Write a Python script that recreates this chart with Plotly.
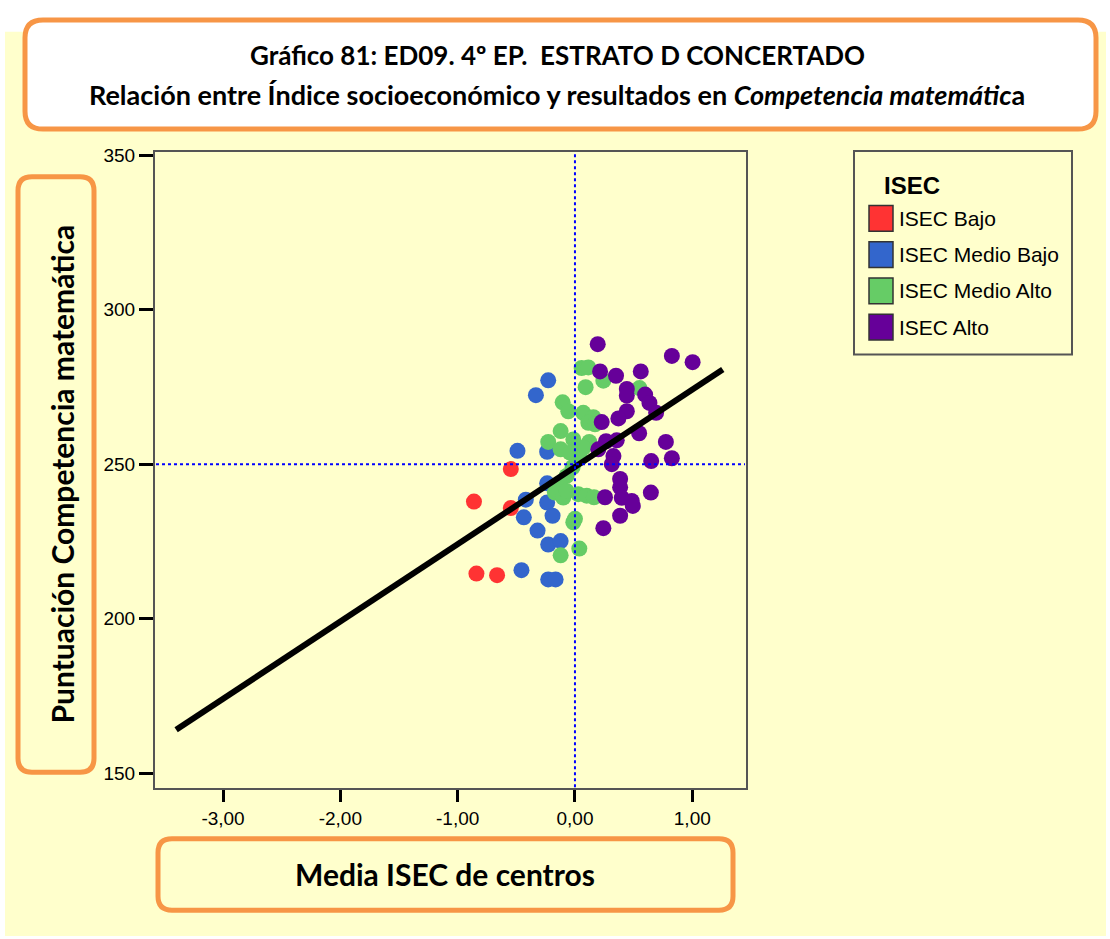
import plotly.graph_objects as go

# ---------------- data ----------------
categories = ["ISEC Bajo", "ISEC Medio Bajo", "ISEC Medio Alto", "ISEC Alto"]
colors = ["#FF3333", "#3366CC", "#66CC66", "#660099"]

bajo_x = [-0.547, -0.861, -0.547, -0.840, -0.664]
bajo_y = [248.4, 237.9, 235.8, 214.6, 214.1]

medio_bajo_x = [-0.228, -0.333, -0.490, -0.237, -0.237, -0.419, -0.237, -0.436,
                -0.191, -0.319, -0.228, -0.122, -0.456, -0.228, -0.165]
medio_bajo_y = [277.1, 272.3, 254.3, 254.0, 243.8, 238.5, 237.6, 232.8,
                233.3, 228.5, 224.0, 225.1, 215.7, 212.7, 212.7]

medio_alto_x = [0.057, 0.114, 0.242, 0.091, 0.550, -0.105, -0.057, 0.071, 0.157,
                0.114, 0.171, -0.122, -0.228, -0.014, 0.122, -0.122, -0.043,
                0.071, -0.071, -0.128, -0.171, -0.100, -0.071, 0.028, 0.100,
                0.162, 0.000, -0.014, 0.037, -0.122, -0.020, 0.040]
medio_alto_y = [281.1, 281.3, 277.0, 274.9, 274.6, 270.0, 267.1, 266.6, 265.2,
                263.4, 262.9, 260.7, 257.2, 258.0, 257.2, 254.8, 253.7,
                255.3, 246.2, 243.6, 240.8, 239.2, 241.3, 240.3, 239.8,
                239.3, 232.3, 231.2, 222.7, 220.5, 249.0, 252.0]

alto_x = [0.194, 0.826, 1.003, 0.214, 0.350, 0.561, 0.442, 0.442, 0.598, 0.635,
          0.692, 0.442, 0.370, 0.228, 0.547, 0.265, 0.356, 0.199, 0.328, 0.314,
          0.775, 0.826, 0.650, 0.385, 0.385, 0.256, 0.399, 0.484, 0.493, 0.647,
          0.385, 0.242]
alto_y = [288.8, 285.0, 283.0, 280.0, 278.6, 280.0, 274.3, 272.2, 272.5, 269.8,
          266.6, 267.1, 264.8, 263.6, 260.0, 257.4, 257.7, 254.8, 252.6, 250.0,
          257.2, 251.9, 251.0, 245.2, 242.5, 239.3, 239.1, 238.1, 236.5, 240.8,
          233.3, 229.3]

# regression line (fitted over all centres)
fit_intercept = 249.1
fit_slope = 25.0
fit_x = [-3.40, 1.26]

x_tick_vals = [-3, -2, -1, 0, 1]
x_tick_text = ["-3,00", "-2,00", "-1,00", "0,00", "1,00"]
y_tick_vals = [150, 200, 250, 300, 350]
y_tick_text = ["150", "200", "250", "300", "350"]

ref_x = 0.0
ref_y = 250.0

title_line1 = "Gráfico 81: ED09. 4º EP.  ESTRATO D CONCERTADO"
title_line2 = "Relación entre Índice socioeconómico y resultados en <i>Competencia matemátic</i>a"
x_title = "Media ISEC de centros"
y_title = "Puntuación Competencia matemática"
legend_title = "ISEC"

# ---------------- figure ----------------
W, H = 1110, 939
BG = "#FFFFCC"
ORANGE = "#F79646"


def px(x):
    return x / W


def py(y):
    return 1 - y / H


def rounded_rect(x0, y0, x1, y1, r):
    pts = []
    pts.append(f"M {px(x0 + r)},{py(y0)}")
    pts.append(f"L {px(x1 - r)},{py(y0)}")
    pts.append(f"Q {px(x1)},{py(y0)} {px(x1)},{py(y0 + r)}")
    pts.append(f"L {px(x1)},{py(y1 - r)}")
    pts.append(f"Q {px(x1)},{py(y1)} {px(x1 - r)},{py(y1)}")
    pts.append(f"L {px(x0 + r)},{py(y1)}")
    pts.append(f"Q {px(x0)},{py(y1)} {px(x0)},{py(y1 - r)}")
    pts.append(f"L {px(x0)},{py(y0 + r)}")
    pts.append(f"Q {px(x0)},{py(y0)} {px(x0 + r)},{py(y0)}")
    pts.append("Z")
    return " ".join(pts)


fig = go.Figure()

groups = [(bajo_x, bajo_y), (medio_bajo_x, medio_bajo_y),
          (medio_alto_x, medio_alto_y), (alto_x, alto_y)]
for name, col, (gx, gy) in zip(categories, colors, groups):
    fig.add_trace(go.Scatter(
        x=gx, y=gy, mode="markers", name=name, showlegend=False,
        marker=dict(color=col, size=16, line=dict(width=0)),
    ))

fit_y = [fit_intercept + fit_slope * v for v in fit_x]
fig.add_trace(go.Scatter(x=fit_x, y=fit_y, mode="lines", showlegend=False,
                         line=dict(color="black", width=6)))

shapes = []
# yellow background
shapes.append(dict(type="rect", xref="paper", yref="paper", x0=px(5), x1=px(1106),
                   y0=py(936), y1=py(25), fillcolor=BG, line=dict(width=0), layer="below"))
# title box
shapes.append(dict(type="path", xref="paper", yref="paper",
                   path=rounded_rect(25, 13, 1096, 123, 18),
                   fillcolor="white", line=dict(color=ORANGE, width=5), layer="below"))
# y-title box
shapes.append(dict(type="path", xref="paper", yref="paper",
                   path=rounded_rect(18, 171, 94, 771, 14),
                   fillcolor=BG, line=dict(color=ORANGE, width=5), layer="below"))
# x-title box
shapes.append(dict(type="path", xref="paper", yref="paper",
                   path=rounded_rect(158, 838, 733, 910, 14),
                   fillcolor=BG, line=dict(color=ORANGE, width=5), layer="below"))
# legend box
shapes.append(dict(type="rect", xref="paper", yref="paper",
                   x0=px(854), x1=px(1072), y0=py(350), y1=py(145),
                   fillcolor=BG, line=dict(color="#555555", width=2), layer="below"))
# reference lines
shapes.append(dict(type="line", xref="x", yref="paper", x0=ref_x, x1=ref_x,
                   y0=py(786), y1=py(147), line=dict(color="#0000FF", width=2, dash="dot"),
                   layer="above"))
shapes.append(dict(type="line", xref="paper", yref="y", x0=px(156), x1=px(745),
                   y0=ref_y, y1=ref_y, line=dict(color="#0000FF", width=2, dash="dot"),
                   layer="above"))

annotations = []
TFONT = "Lato"
annotations.append(dict(xref="paper", yref="paper", x=px(557), y=py(48), text=f"<b>{title_line1}</b>",
                        showarrow=False, font=dict(family=TFONT, size=26, color="black"),
                        xanchor="center", yanchor="middle"))
annotations.append(dict(xref="paper", yref="paper", x=px(557), y=py(88), text=f"<b>{title_line2}</b>",
                        showarrow=False, font=dict(family=TFONT, size=27, color="black"),
                        xanchor="center", yanchor="middle"))
annotations.append(dict(xref="paper", yref="paper", x=px(445), y=py(874), text=f"<b>{x_title}</b>",
                        showarrow=False, font=dict(family=TFONT, size=30, color="black"),
                        xanchor="center", yanchor="middle"))
annotations.append(dict(xref="paper", yref="paper", x=px(62), y=py(471), text=f"<b>{y_title}</b>",
                        showarrow=False, textangle=-90, font=dict(family=TFONT, size=30, color="black"),
                        xanchor="center", yanchor="middle"))
# legend content
annotations.append(dict(xref="paper", yref="paper", x=px(882), y=py(180), text=f"<b>{legend_title}</b>",
                        showarrow=False, font=dict(family="Liberation Sans", size=24, color="black"),
                        xanchor="left", yanchor="middle"))
for i, (name, col) in enumerate(zip(categories, colors)):
    cy = 213 + i * 36.5
    shapes.append(dict(type="rect", xref="paper", yref="paper",
                       x0=px(869), x1=px(893), y0=py(cy + 13), y1=py(cy - 13),
                       fillcolor=col, line=dict(color="#333333", width=1.5)))
    annotations.append(dict(xref="paper", yref="paper", x=px(897), y=py(cy), text=name,
                            showarrow=False, font=dict(family="Liberation Sans", size=21, color="black"),
                            xanchor="left", yanchor="middle"))

fig.update_layout(
    width=W, height=H,
    margin=dict(l=0, r=0, t=0, b=0),
    paper_bgcolor="white",
    plot_bgcolor=BG,
    showlegend=False,
    shapes=shapes,
    annotations=annotations,
    xaxis=dict(domain=[px(155), px(746)], range=[-3.58, 1.458],
               tickvals=x_tick_vals, ticktext=x_tick_text,
               ticks="outside", ticklen=12, tickwidth=3, tickcolor="black",
               showgrid=False, zeroline=False,
               showline=True, linecolor="#555555", linewidth=2, mirror=True,
               tickfont=dict(family="Liberation Sans", size=19, color="black")),
    yaxis=dict(domain=[py(787), py(146)], range=[145.2, 351],
               tickvals=y_tick_vals, ticktext=y_tick_text,
               ticks="outside", ticklen=14, tickwidth=3, tickcolor="black",
               showgrid=False, zeroline=False,
               showline=True, linecolor="#555555", linewidth=2, mirror=True,
               tickfont=dict(family="Liberation Sans", size=19, color="black")),
)

fig.write_html("out.html", config={"displayModeBar": False},
               post_script="document.body.style.margin='0';")
